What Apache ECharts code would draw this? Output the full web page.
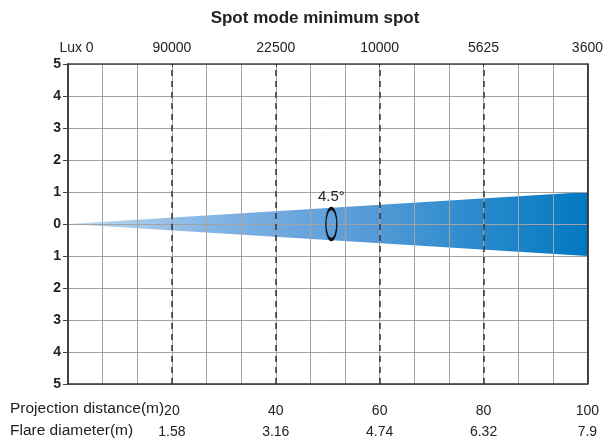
<!DOCTYPE html>
<html>
<head>
<meta charset="utf-8">
<title>Spot mode minimum spot</title>
<script src="https://cdn.jsdelivr.net/npm/echarts@6/dist/echarts.min.js"></script>
<style>
  html, body { margin: 0; padding: 0; background: #fff; }
  #chart { width: 606px; height: 439px; }
</style>
</head>
<body>
<div id="chart"></div>
<script>
// chart data
const luxLabels = ["Lux 0", "90000", "22500", "10000", "5625", "3600"];
const distances = [0, 20, 40, 60, 80, 100];
const flareDiameters = ["", "1.58", "3.16", "4.74", "6.32", "7.9"];
const dashedX = [20, 40, 60, 80];
const beamX = [0, 100];
const beamUpper = [0, 1];
const beamLower = [0, -1];
const beamAngle = "4.5°";
const angleMarkX = 50.7;

const FONT = "Liberation Sans";
const chart = echarts.init(document.getElementById("chart"));

const beamFill = new echarts.graphic.LinearGradient(0, 0, 1, 0, [
  { offset: 0, color: "#c2daf3" },
  { offset: 0.3, color: "#7fb2e3" },
  { offset: 0.55, color: "#5a9dd8" },
  { offset: 1, color: "#0079c2" },
]);

// value (0..100 step 20) -> label from list
function stepLabel(list) {
  return (v) => {
    const i = Math.round(v / 20);
    return list[i] === undefined ? "" : String(list[i]);
  };
}

const option = {
  animation: false,
  title: {
    text: "Spot mode minimum spot",
    left: 310,
    top: 5,
    textAlign: "center",
    textStyle: { fontFamily: FONT, fontSize: 17, fontWeight: "bold", color: "#222" },
  },
  grid: { left: 68, right: 18, top: 64, bottom: 54 },
  xAxis: [
    {
      type: "value",
      position: "bottom",
      min: 0,
      max: 100,
      interval: 100 / 15,
      axisLine: { show: true, onZero: false, lineStyle: { color: "#333", width: 1.5 } },
      axisTick: { show: false },
      axisLabel: { show: false },
      splitLine: { show: true, lineStyle: { color: "#a3a3a3", width: 1 } },
    },
    {
      type: "value",
      position: "top",
      min: 0,
      max: 100,
      interval: 20,
      axisLine: { show: true, onZero: false, lineStyle: { color: "#444", width: 1.5 } },
      axisTick: { show: true, inside: true, length: 3, lineStyle: { color: "#333" } },
      splitLine: { show: false },
      axisLabel: {
        margin: 9,
        fontFamily: FONT,
        fontSize: 14,
        color: "#222",
        formatter: (v) => {
          const s = stepLabel(luxLabels)(v);
          return v === 0 ? "{a|" + s + "}" : s;
        },
        rich: { a: { fontFamily: FONT, fontSize: 14, color: "#222", padding: [0, 0, 0, 17] } },
      },
    },
    {
      type: "value",
      position: "bottom",
      min: 0,
      max: 100,
      interval: 20,
      axisLine: { show: false, onZero: false },
      axisTick: { show: false },
      splitLine: { show: false },
      axisLabel: {
        margin: 20,
        fontFamily: FONT,
        fontSize: 14,
        color: "#222",
        formatter: (v) => (v === 0 ? "" : String(distances[Math.round(v / 20)])),
      },
    },
    {
      type: "value",
      position: "bottom",
      offset: 22,
      min: 0,
      max: 100,
      interval: 20,
      axisLine: { show: false, onZero: false },
      axisTick: { show: false },
      splitLine: { show: false },
      axisLabel: {
        margin: 19,
        fontFamily: FONT,
        fontSize: 14,
        color: "#222",
        formatter: stepLabel(flareDiameters),
      },
    },
  ],
  yAxis: [
    {
      type: "value",
      position: "left",
      min: -5,
      max: 5,
      interval: 1,
      axisLine: { show: true, onZero: false, lineStyle: { color: "#444", width: 2 } },
      axisTick: { show: true, length: 5, lineStyle: { color: "#444" } },
      splitLine: { show: true, lineStyle: { color: "#a3a3a3", width: 1 } },
      axisLabel: {
        margin: 7,
        fontFamily: FONT,
        fontSize: 14,
        fontWeight: "bold",
        color: "#222",
        formatter: (v) => String(Math.abs(v)),
      },
    },
    {
      type: "value",
      position: "right",
      min: -5,
      max: 5,
      axisLine: { show: true, onZero: false, lineStyle: { color: "#111", width: 1.5 } },
      axisTick: { show: false },
      axisLabel: { show: false },
      splitLine: { show: false },
    },
  ],
  series: [
    {
      type: "line",
      z: -1,
      xAxisIndex: 0,
      yAxisIndex: 0,
      data: beamX.map((x, i) => [x, beamUpper[i]]),
      symbol: "none",
      lineStyle: { width: 0 },
      areaStyle: { color: beamFill, opacity: 1 },
    },
    {
      type: "line",
      z: -1,
      xAxisIndex: 0,
      yAxisIndex: 0,
      data: beamX.map((x, i) => [x, beamLower[i]]),
      symbol: "none",
      lineStyle: { width: 0 },
      areaStyle: { color: beamFill, opacity: 1 },
    },
    {
      type: "scatter",
      xAxisIndex: 0,
      yAxisIndex: 0,
      data: [[angleMarkX, 0]],
      symbol: "circle",
      symbolSize: [11, 31],
      itemStyle: { color: "rgba(0,0,0,0)", borderColor: "#111", borderWidth: 2.2, opacity: 1 },
      label: {
        show: true,
        position: "top",
        distance: 2,
        formatter: beamAngle,
        fontFamily: FONT,
        fontSize: 15,
        color: "#222",
      },
      markLine: {
        silent: true,
        symbol: "none",
        label: { show: false },
        lineStyle: { color: "#333", type: [6, 5], width: 1.5 },
        data: dashedX.map((x) => ({ xAxis: x })),
      },
    },
  ],
  graphic: [
    {
      type: "text",
      left: 10,
      top: 401,
      style: { text: "Projection distance(m)", font: "15.5px " + FONT, fill: "#222" },
    },
    {
      type: "text",
      left: 10,
      top: 423,
      style: { text: "Flare diameter(m)", font: "15.5px " + FONT, fill: "#222" },
    },
  ],
};

chart.setOption(option);
</script>
</body>
</html>
